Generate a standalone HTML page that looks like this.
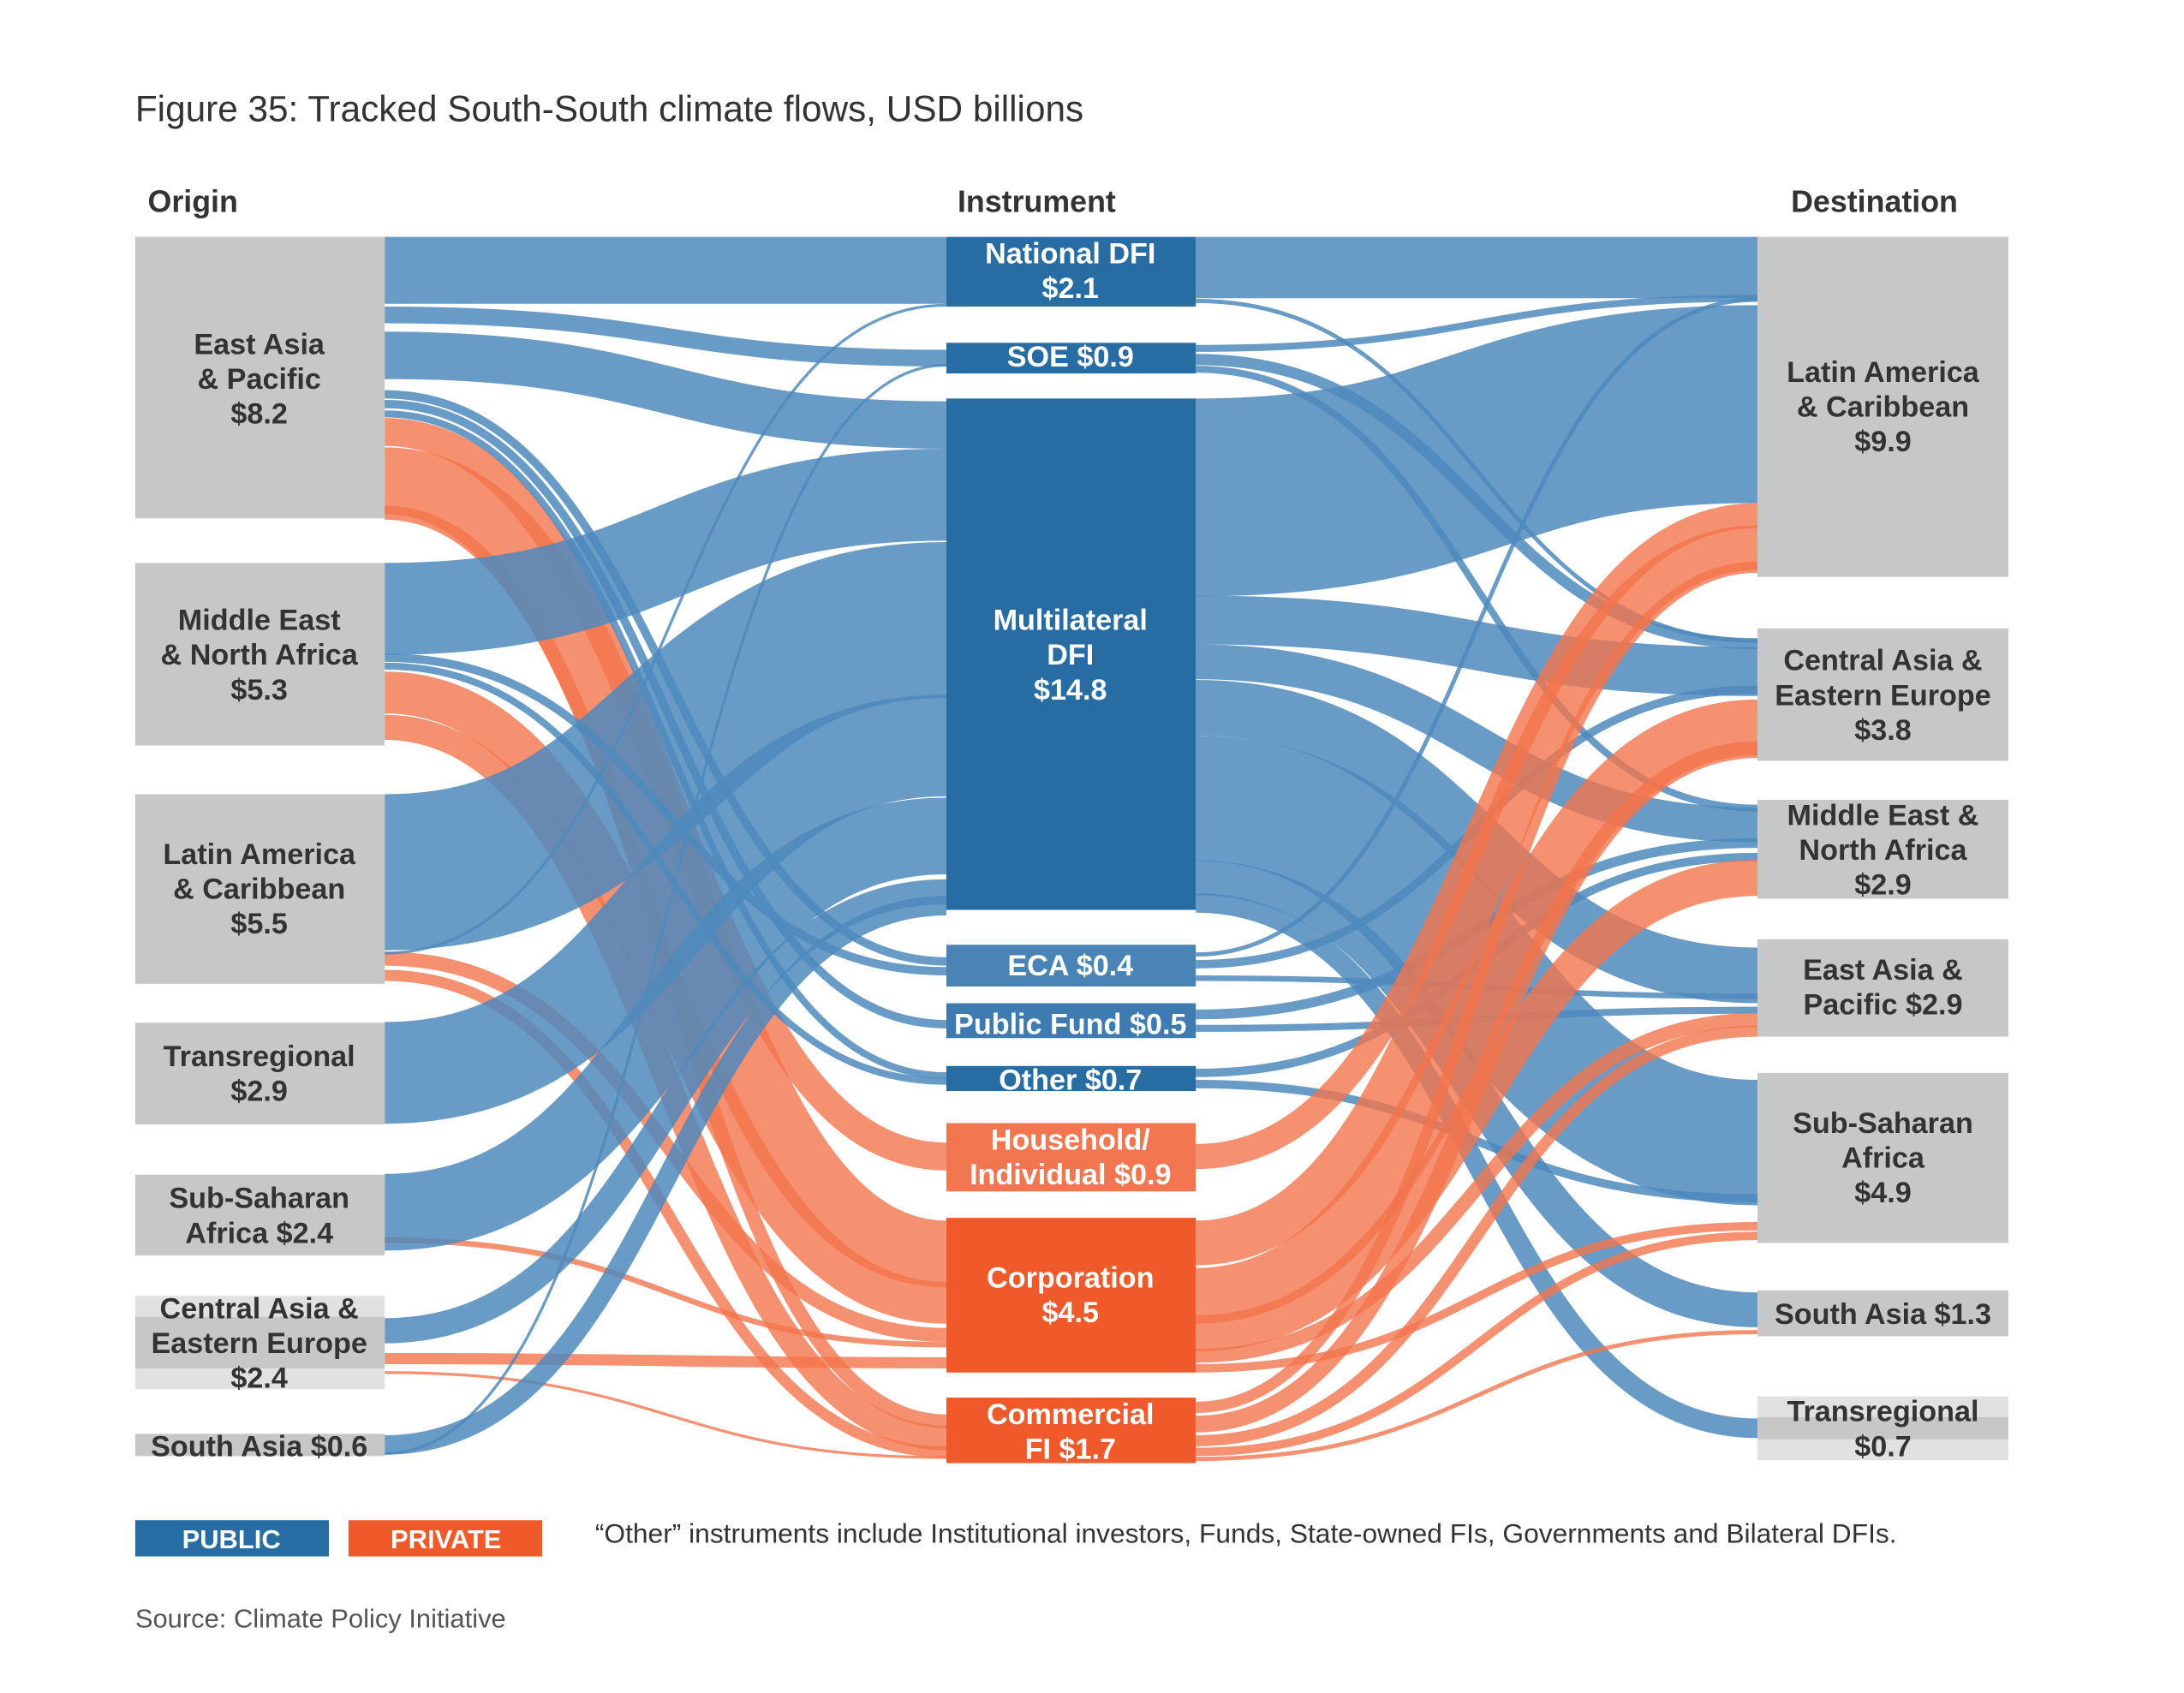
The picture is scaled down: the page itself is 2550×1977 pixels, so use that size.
<!DOCTYPE html>
<html><head><meta charset="utf-8"><style>
html,body{margin:0;padding:0;background:#fff}
svg{display:block}
text{font-family:"Liberation Sans",sans-serif}
.h{font-weight:bold;font-size:22px;fill:#333}
.n{font-weight:bold;font-size:21px;fill:#333;text-anchor:middle}
.w{font-weight:bold;font-size:21px;fill:#fff;text-anchor:middle}
.b path{fill:none;stroke:#4f89bd;stroke-opacity:.85}
.o path{fill:none;stroke:#f2744c;stroke-opacity:.8}
</style></head><body>
<svg width="2550" height="1977" viewBox="0 0 1567 1215" preserveAspectRatio="none" xmlns="http://www.w3.org/2000/svg">
<text x="97" y="87" style="font-size:26px;fill:#333">Figure 35: Tracked South-South climate flows, USD billions</text>
<text x="106" y="152" class="h">Origin</text>
<text x="687" y="152" class="h">Instrument</text>
<text x="1285" y="152" class="h">Destination</text>

<g class="o">
<path d="M276 310 C480 310,480 830,679 830" stroke-width="20"/>
<path d="M276 345 C480 345,480 900,679 900" stroke-width="48"/>
<path d="M276 368 C480 368,480 1020,679 1020" stroke-width="10"/>
<path d="M276 497 C480 497,480 935,679 935" stroke-width="30"/>
<path d="M276 522 C480 522,480 1032,679 1032" stroke-width="18"/>
<path d="M276 688 C480 688,480 958,679 958" stroke-width="10"/>
<path d="M276 700 C480 700,480 1042,679 1042" stroke-width="8"/>
<path d="M276 890 C480 890,480 965,679 965" stroke-width="4"/>
<path d="M276 975 C480 975,480 978,679 978" stroke-width="8"/>
<path d="M276 985 C480 985,480 1046,679 1046" stroke-width="2"/>
</g>
<g class="b">
<path d="M276 194 C480 194,480 194,679 194" stroke-width="48"/>
<path d="M276 226 C480 226,480 257,679 257" stroke-width="12"/>
<path d="M276 255 C480 255,480 305,679 305" stroke-width="34"/>
<path d="M276 283 C480 283,480 690,679 690" stroke-width="6"/>
<path d="M276 290 C480 290,480 735,679 735" stroke-width="6"/>
<path d="M276 297 C480 297,480 772,679 772" stroke-width="5"/>
<path d="M276 437 C480 437,480 355,679 355" stroke-width="66"/>
<path d="M276 472 C480 472,480 697,679 697" stroke-width="6"/>
<path d="M276 478 C480 478,480 776,679 776" stroke-width="5"/>
<path d="M276 626 C480 626,480 445,679 445" stroke-width="112"/>
<path d="M276 684 C480 684,480 219,679 219" stroke-width="2"/>
<path d="M276 770 C480 770,480 535,679 535" stroke-width="73"/>
<path d="M276 870 C480 870,480 600,679 600" stroke-width="55"/>
<path d="M276 955 C480 955,480 640,679 640" stroke-width="18"/>
<path d="M276 1037 C480 1037,480 650,679 650" stroke-width="14"/>
<path d="M276 1043 C480 1043,480 262,679 262" stroke-width="2"/>
</g>

<g class="b">
<path d="M858 192 C1060 192,1060 192,1261 192" stroke-width="44"/>
<path d="M858 216 C1060 216,1060 460,1261 460" stroke-width="3"/>
<path d="M858 250 C1060 250,1060 214,1261 214" stroke-width="5"/>
<path d="M858 258 C1060 258,1060 462,1261 462" stroke-width="8"/>
<path d="M858 265 C1060 265,1060 580,1261 580" stroke-width="5"/>
<path d="M858 357 C1060 357,1060 290,1261 290" stroke-width="142"/>
<path d="M858 445 C1060 445,1060 482,1261 482" stroke-width="35"/>
<path d="M858 475 C1060 475,1060 592,1261 592" stroke-width="25"/>
<path d="M858 508 C1060 508,1060 700,1261 700" stroke-width="40"/>
<path d="M858 573 C1060 573,1060 820,1261 820" stroke-width="90"/>
<path d="M858 630 C1060 630,1060 940,1261 940" stroke-width="25"/>
<path d="M858 648 C1060 648,1060 1025,1261 1025" stroke-width="14"/>
<path d="M858 685 C1060 685,1060 215,1261 215" stroke-width="3"/>
<path d="M858 692 C1060 692,1060 495,1261 495" stroke-width="6"/>
<path d="M858 702 C1060 702,1060 715,1261 715" stroke-width="4"/>
<path d="M858 728 C1060 728,1060 605,1261 605" stroke-width="7"/>
<path d="M858 738 C1060 738,1060 725,1261 725" stroke-width="5"/>
<path d="M858 770 C1060 770,1060 615,1261 615" stroke-width="6"/>
<path d="M858 778 C1060 778,1060 860,1261 860" stroke-width="6"/>
</g>
<g class="o">
<path d="M858 830 C1060 830,1060 370,1261 370" stroke-width="18"/>
<path d="M858 892 C1060 892,1060 393,1261 393" stroke-width="32"/>
<path d="M858 930 C1060 930,1060 522,1261 522" stroke-width="40"/>
<path d="M858 957 C1060 957,1060 630,1261 630" stroke-width="26"/>
<path d="M858 973 C1060 973,1060 732,1261 732" stroke-width="10"/>
<path d="M858 982 C1060 982,1060 880,1261 880" stroke-width="6"/>
<path d="M858 1010 C1060 1010,1060 407,1261 407" stroke-width="8"/>
<path d="M858 1022 C1060 1022,1060 538,1261 538" stroke-width="12"/>
<path d="M858 1034 C1060 1034,1060 740,1261 740" stroke-width="8"/>
<path d="M858 1042 C1060 1042,1060 887,1261 887" stroke-width="6"/>
<path d="M858 1047 C1060 1047,1060 956,1261 956" stroke-width="3"/>
</g>

<g fill="#c8c7c7">
<rect x="97" y="170" width="179" height="202"/>
<rect x="97" y="404" width="179" height="131"/>
<rect x="97" y="570" width="179" height="136"/>
<rect x="97" y="734" width="179" height="73"/>
<rect x="97" y="843" width="179" height="58"/>
<rect x="97" y="930" width="179" height="67" fill="#e2e1e1"/>
<rect x="97" y="945" width="179" height="37"/>
<rect x="97" y="1029" width="179" height="16"/>
</g>
<text class="n"><tspan x="186" y="254">East Asia</tspan><tspan x="186" y="279">&amp; Pacific</tspan><tspan x="186" y="304">$8.2</tspan></text>
<text class="n"><tspan x="186" y="452">Middle East</tspan><tspan x="186" y="477">&amp; North Africa</tspan><tspan x="186" y="502">$5.3</tspan></text>
<text class="n"><tspan x="186" y="620">Latin America</tspan><tspan x="186" y="645">&amp; Caribbean</tspan><tspan x="186" y="670">$5.5</tspan></text>
<text class="n"><tspan x="186" y="765">Transregional</tspan><tspan x="186" y="790">$2.9</tspan></text>
<text class="n"><tspan x="186" y="867">Sub-Saharan</tspan><tspan x="186" y="892">Africa $2.4</tspan></text>
<text class="n"><tspan x="186" y="946">Central Asia &amp;</tspan><tspan x="186" y="971">Eastern Europe</tspan><tspan x="186" y="996">$2.4</tspan></text>
<text class="n"><tspan x="186" y="1045">South Asia $0.6</tspan></text>

<g>
<rect x="679" y="170" width="179" height="50" fill="#276da4"/>
<rect x="679" y="246" width="179" height="22" fill="#276da4"/>
<rect x="679" y="286" width="179" height="367" fill="#276da4"/>
<rect x="679" y="678" width="179" height="30" fill="#4a84b6"/>
<rect x="679" y="720" width="179" height="25" fill="#3d7bb0"/>
<rect x="679" y="765" width="179" height="18" fill="#276da4"/>
<rect x="679" y="806" width="179" height="49" fill="#f27650"/>
<rect x="679" y="874" width="179" height="111" fill="#f05a2a"/>
<rect x="679" y="1003" width="179" height="47" fill="#f05a2a"/>
</g>
<text class="w"><tspan x="768" y="189">National DFI</tspan><tspan x="768" y="214">$2.1</tspan></text>
<text class="w" x="768" y="263">SOE $0.9</text>
<text class="w"><tspan x="768" y="452">Multilateral</tspan><tspan x="768" y="477">DFI</tspan><tspan x="768" y="502">$14.8</tspan></text>
<text class="w" x="768" y="700">ECA $0.4</text>
<text class="w" x="768" y="742">Public Fund $0.5</text>
<text class="w" x="768" y="782">Other $0.7</text>
<text class="w"><tspan x="768" y="825">Household/</tspan><tspan x="768" y="850">Individual $0.9</tspan></text>
<text class="w"><tspan x="768" y="924">Corporation</tspan><tspan x="768" y="949">$4.5</tspan></text>
<text class="w"><tspan x="768" y="1022">Commercial</tspan><tspan x="768" y="1047">FI $1.7</tspan></text>

<g fill="#c8c7c7">
<rect x="1261" y="170" width="180" height="244"/>
<rect x="1261" y="451" width="180" height="95"/>
<rect x="1261" y="574" width="180" height="71"/>
<rect x="1261" y="674" width="180" height="70"/>
<rect x="1261" y="770" width="180" height="122"/>
<rect x="1261" y="926" width="180" height="33"/>
<rect x="1261" y="1002" width="180" height="46" fill="#e2e1e1"/>
<rect x="1261" y="1017" width="180" height="16"/>
</g>
<text class="n"><tspan x="1351" y="274">Latin America</tspan><tspan x="1351" y="299">&amp; Caribbean</tspan><tspan x="1351" y="324">$9.9</tspan></text>
<text class="n"><tspan x="1351" y="481">Central Asia &amp;</tspan><tspan x="1351" y="506">Eastern Europe</tspan><tspan x="1351" y="531">$3.8</tspan></text>
<text class="n"><tspan x="1351" y="592">Middle East &amp;</tspan><tspan x="1351" y="617">North Africa</tspan><tspan x="1351" y="642">$2.9</tspan></text>
<text class="n"><tspan x="1351" y="703">East Asia &amp;</tspan><tspan x="1351" y="728">Pacific $2.9</tspan></text>
<text class="n"><tspan x="1351" y="813">Sub-Saharan</tspan><tspan x="1351" y="838">Africa</tspan><tspan x="1351" y="863">$4.9</tspan></text>
<text class="n" x="1351" y="950">South Asia $1.3</text>
<text class="n"><tspan x="1351" y="1020">Transregional</tspan><tspan x="1351" y="1045">$0.7</tspan></text>

<rect x="97" y="1091" width="139" height="26" fill="#276da4"/>
<text x="166" y="1111" class="w" style="font-size:19px">PUBLIC</text>
<rect x="250" y="1091" width="139" height="26" fill="#f05a2a"/>
<text x="320" y="1111" class="w" style="font-size:19px">PRIVATE</text>
<text x="427" y="1107" style="font-size:19.5px;fill:#333">“Other” instruments include Institutional investors, Funds, State-owned FIs, Governments and Bilateral DFIs.</text>
<text x="97" y="1168" style="font-size:19px;fill:#555">Source: Climate Policy Initiative</text>
</svg>
</body></html>
